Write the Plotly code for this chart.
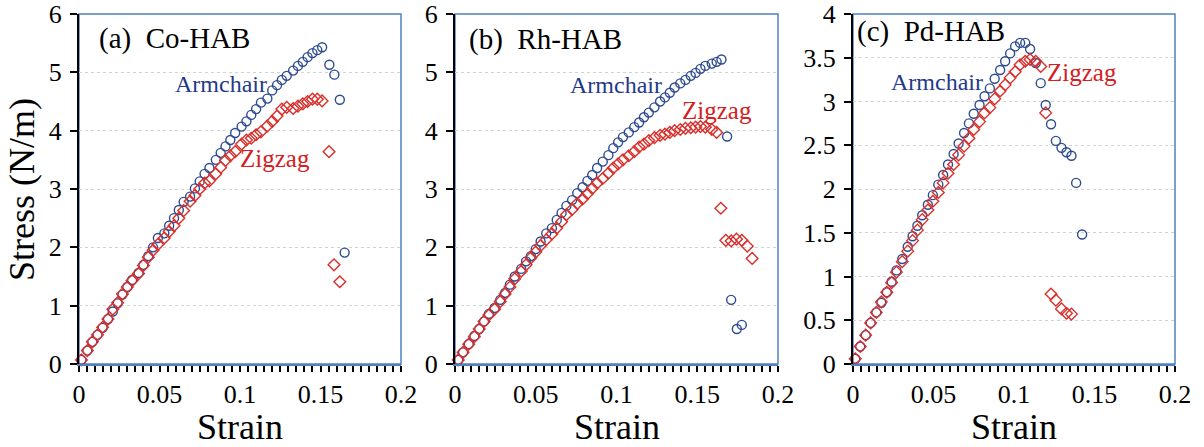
import plotly.graph_objs as go

# ---- data ----
# (a) Co-HAB
co_arm_strain = [0.0015, 0.0052, 0.0083, 0.0115, 0.0147, 0.018, 0.021, 0.024, 0.027, 0.030,
                 0.033, 0.037, 0.040, 0.043, 0.046, 0.049, 0.053, 0.056, 0.059, 0.062,
                 0.065, 0.069, 0.072, 0.075, 0.078, 0.081, 0.085, 0.088, 0.091, 0.094,
                 0.097, 0.101, 0.104, 0.107, 0.110, 0.113, 0.117, 0.120, 0.123, 0.126,
                 0.129, 0.133, 0.136, 0.139, 0.142, 0.145, 0.148, 0.151, 0.1555, 0.1586,
                 0.162, 0.165]
co_arm_stress = [0.07, 0.23, 0.38, 0.50, 0.62, 0.77, 0.90, 1.04, 1.19, 1.32,
                 1.44, 1.56, 1.70, 1.85, 2.00, 2.16, 2.24, 2.37, 2.50, 2.64,
                 2.78, 2.87, 3.01, 3.13, 3.26, 3.36, 3.50, 3.62, 3.73, 3.84,
                 3.96, 4.07, 4.16, 4.27, 4.37, 4.48, 4.55, 4.69, 4.78, 4.87,
                 4.94, 5.03, 5.11, 5.18, 5.26, 5.33, 5.38, 5.43, 5.13, 4.96,
                 4.53, 1.91]
co_zig_strain = [0.0015, 0.0052, 0.0083, 0.0115, 0.0147, 0.018, 0.021, 0.024, 0.027, 0.030,
                 0.033, 0.037, 0.040, 0.043, 0.046, 0.049, 0.053, 0.056, 0.059, 0.062,
                 0.065, 0.069, 0.072, 0.075, 0.078, 0.081, 0.085, 0.088, 0.091, 0.094,
                 0.097, 0.101, 0.104, 0.107, 0.110, 0.113, 0.117, 0.120, 0.123, 0.126,
                 0.129, 0.133, 0.136, 0.139, 0.142, 0.145, 0.148, 0.151, 0.1553, 0.1584,
                 0.162]
co_zig_stress = [0.07, 0.23, 0.38, 0.50, 0.63, 0.77, 0.94, 1.05, 1.20, 1.32,
                 1.43, 1.55, 1.69, 1.83, 1.95, 2.05, 2.16, 2.27, 2.37, 2.50,
                 2.63, 2.79, 2.89, 3.00, 3.10, 3.14, 3.26, 3.37, 3.49, 3.57,
                 3.64, 3.77, 3.84, 3.87, 3.93, 3.98, 4.08, 4.16, 4.25, 4.37,
                 4.40, 4.38, 4.42, 4.46, 4.50, 4.54, 4.54, 4.51, 3.64, 1.70,
                 1.41]

# (b) Rh-HAB
rh_arm_strain = [0.002, 0.005, 0.0085, 0.012, 0.015, 0.018, 0.021, 0.0245, 0.028, 0.031,
                 0.034, 0.037, 0.041, 0.044, 0.047, 0.050, 0.053, 0.0565, 0.060, 0.063,
                 0.066, 0.069, 0.0725, 0.0757, 0.079, 0.082, 0.085, 0.088, 0.0915, 0.095,
                 0.098, 0.101, 0.104, 0.1076, 0.111, 0.114, 0.117, 0.120, 0.1235, 0.127,
                 0.130, 0.133, 0.136, 0.1395, 0.1427, 0.146, 0.149, 0.152, 0.155, 0.159,
                 0.162, 0.165, 0.1685, 0.171, 0.1745, 0.1776]
rh_arm_stress = [0.07, 0.20, 0.34, 0.48, 0.60, 0.73, 0.86, 0.96, 1.10, 1.22,
                 1.36, 1.50, 1.63, 1.76, 1.85, 1.97, 2.10, 2.24, 2.33, 2.47,
                 2.59, 2.71, 2.81, 2.93, 3.03, 3.14, 3.24, 3.36, 3.47, 3.58,
                 3.70, 3.80, 3.89, 3.97, 4.06, 4.14, 4.23, 4.31, 4.40, 4.50,
                 4.57, 4.65, 4.74, 4.81, 4.87, 4.94, 4.99, 5.06, 5.11, 5.15,
                 5.18, 5.22, 3.90, 1.10, 0.60, 0.67]
rh_zig_strain = [0.002, 0.005, 0.0085, 0.012, 0.015, 0.018, 0.021, 0.0245, 0.028, 0.031,
                 0.034, 0.037, 0.041, 0.044, 0.047, 0.050, 0.053, 0.0565, 0.060, 0.063,
                 0.066, 0.069, 0.0725, 0.0757, 0.079, 0.082, 0.085, 0.088, 0.0915, 0.095,
                 0.098, 0.101, 0.104, 0.1076, 0.111, 0.114, 0.117, 0.120, 0.1235, 0.127,
                 0.130, 0.133, 0.136, 0.1395, 0.1427, 0.146, 0.149, 0.152, 0.155, 0.159,
                 0.162, 0.1646, 0.1677, 0.171, 0.1743, 0.1776, 0.181, 0.184]
rh_zig_stress = [0.07, 0.20, 0.34, 0.47, 0.60, 0.73, 0.84, 0.94, 1.07, 1.20,
                 1.32, 1.46, 1.59, 1.70, 1.82, 1.92, 2.03, 2.13, 2.23, 2.33,
                 2.44, 2.56, 2.65, 2.75, 2.83, 2.92, 3.01, 3.10, 3.18, 3.27,
                 3.36, 3.43, 3.50, 3.57, 3.64, 3.72, 3.77, 3.83, 3.88, 3.92,
                 3.94, 3.97, 4.00, 4.02, 4.04, 4.05, 4.06, 4.07, 4.06, 4.02,
                 3.97, 2.67, 2.12, 2.11, 2.14, 2.12, 2.02, 1.81]

# (c) Pd-HAB
pd_arm_strain = [0.0014, 0.0045, 0.0079, 0.011, 0.0145, 0.0176, 0.021, 0.024, 0.027, 0.0306,
                 0.034, 0.037, 0.040, 0.043, 0.0465, 0.0496, 0.053, 0.056, 0.059, 0.0625,
                 0.0656, 0.069, 0.072, 0.075, 0.0786, 0.0817, 0.085, 0.088, 0.0914, 0.0945,
                 0.0976, 0.1007, 0.1038, 0.107, 0.110, 0.1135, 0.1166, 0.1197, 0.123, 0.126,
                 0.1295, 0.1326, 0.1357, 0.1386, 0.1423]
pd_arm_stress = [0.06, 0.20, 0.33, 0.47, 0.59, 0.70, 0.82, 0.94, 1.07, 1.20,
                 1.34, 1.46, 1.58, 1.70, 1.82, 1.93, 2.05, 2.16, 2.28, 2.40,
                 2.52, 2.64, 2.75, 2.86, 2.96, 3.06, 3.15, 3.26, 3.36, 3.46,
                 3.55, 3.63, 3.67, 3.67, 3.60, 3.44, 3.21, 2.96, 2.74, 2.55,
                 2.47, 2.42, 2.38, 2.07, 1.48]
pd_zig_strain = [0.0014, 0.0045, 0.0079, 0.011, 0.0145, 0.0176, 0.021, 0.024, 0.027, 0.0306,
                 0.034, 0.037, 0.040, 0.043, 0.0465, 0.0496, 0.053, 0.056, 0.059, 0.0625,
                 0.0656, 0.069, 0.072, 0.075, 0.0786, 0.0817, 0.085, 0.088, 0.0914, 0.0945,
                 0.0976, 0.1007, 0.1038, 0.107, 0.110, 0.1135, 0.1166, 0.1197, 0.123, 0.126,
                 0.1295, 0.1326, 0.1357]
pd_zig_stress = [0.06, 0.20, 0.33, 0.47, 0.59, 0.71, 0.82, 0.93, 1.05, 1.17,
                 1.29, 1.41, 1.53, 1.65, 1.76, 1.86, 1.96, 2.07, 2.18, 2.28,
                 2.39, 2.49, 2.58, 2.68, 2.77, 2.87, 2.93, 3.03, 3.12, 3.19,
                 3.27, 3.34, 3.42, 3.46, 3.48, 3.46, 3.40, 2.87, 0.80, 0.73,
                 0.63, 0.58, 0.57]

panel_titles = ['(a)\u00a0 Co-HAB', '(b)\u00a0 Rh-HAB', '(c)\u00a0 Pd-HAB']
y_max = [6, 6, 4]
y_step = [1, 1, 0.5]

# ---- styling ----
FONT = 'Liberation Serif'
BLUE = '#2e4b8f'
RED = '#d9302c'
FRAME = '#4f81bd'
W, H = 1204, 447

# pixel placement of each panel (left, right)
panel_px = [(79, 401), (455, 778), (853, 1175)]
# label positions in data units: armchair (x, y), zigzag (x, y)
arm_pos = [(0.088, 4.80), (0.0996, 4.78), (0.052, 3.22)]
zig_pos = [(0.122, 3.53), (0.162, 4.34), (0.142, 3.33)]
title_pos = [(0.056, 0.931), (0.037, 0.926), (0.006, 0.949)]

series = [
    (co_arm_strain, co_arm_stress, co_zig_strain, co_zig_stress),
    (rh_arm_strain, rh_arm_stress, rh_zig_strain, rh_zig_stress),
    (pd_arm_strain, pd_arm_stress, pd_zig_strain, pd_zig_stress),
]

fig = go.Figure()
layout = dict(
    width=W, height=H,
    margin=dict(l=0, r=0, t=14, b=83, autoexpand=False),
    paper_bgcolor='white', plot_bgcolor='white',
    showlegend=False,
    font=dict(family=FONT, color='black', size=26),
)
annotations = []
shapes = []

for i, (ax, ay, zx, zy) in enumerate(series):
    n = '' if i == 0 else str(i + 1)
    xa, ya = 'x' + n, 'y' + n
    fig.add_trace(go.Scatter(
        x=ax, y=ay, mode='markers', xaxis=xa, yaxis=ya, cliponaxis=False,
        marker=dict(symbol='circle-open', size=9, color=BLUE, line=dict(width=1.4, color=BLUE)),
    ))
    fig.add_trace(go.Scatter(
        x=zx, y=zy, mode='markers', xaxis=xa, yaxis=ya, cliponaxis=False,
        marker=dict(symbol='diamond-open', size=9, color=RED, line=dict(width=1.4, color=RED)),
    ))

    left, right = panel_px[i]
    layout['xaxis' + n] = dict(
        domain=[left / W, right / W], anchor=ya, automargin=False,
        range=[0, 0.2], dtick=0.05, tick0=0,
        showline=True, linecolor=FRAME, linewidth=1.5,
        ticks='outside', ticklen=6, tickwidth=1.5, tickcolor='black',
        minor=dict(dtick=0.005, ticks='outside', ticklen=6, tickwidth=1.5, tickcolor='black'),
        showgrid=False, zeroline=False,
        tickfont=dict(family=FONT, size=26, color='black'),
    )
    layout['yaxis' + n] = dict(
        domain=[0, 1], anchor=xa, automargin=False,
        range=[0, y_max[i]], dtick=y_step[i], tick0=0,
        showline=True, linecolor='black', linewidth=2,
        ticks='outside', ticklen=7, tickwidth=1.5, tickcolor='black',
        showgrid=True, gridcolor='#d3d3d3', griddash='dot', gridwidth=1,
        zeroline=False, ticklabelstandoff=3,
        tickfont=dict(family=FONT, size=26, color='black'),
    )

    # blue frame (top / right)
    shapes.append(dict(type='rect', xref=xa + ' domain', yref=ya + ' domain',
                       x0=0, x1=1, y0=0, y1=1, layer='below',
                       line=dict(color=FRAME, width=1.5)))

    annotations.append(dict(text=panel_titles[i], xref=xa + ' domain', yref=ya + ' domain',
                            x=title_pos[i][0], y=title_pos[i][1], xanchor='left', yanchor='middle',
                            showarrow=False, font=dict(family=FONT, size=29, color='black')))
    annotations.append(dict(text='Armchair', xref=xa, yref=ya,
                            x=arm_pos[i][0], y=arm_pos[i][1], showarrow=False,
                            font=dict(family=FONT, size=24, color='#1f3a8a')))
    annotations.append(dict(text='Zigzag', xref=xa, yref=ya,
                            x=zig_pos[i][0], y=zig_pos[i][1], showarrow=False,
                            font=dict(family=FONT, size=25, color='#d42020')))
    annotations.append(dict(text='Strain', xref=xa + ' domain', yref=ya + ' domain',
                            x=0.5, y=-0.18, xanchor='center', yanchor='middle', showarrow=False,
                            font=dict(family=FONT, size=36, color='black')))

annotations.append(dict(text='Stress (N/m)', xref='paper', yref='paper',
                        x=22 / W, y=0.497, xanchor='center', yanchor='middle',
                        textangle=-90, showarrow=False,
                        font=dict(family=FONT, size=36, color='black')))

layout['annotations'] = annotations
layout['shapes'] = shapes
fig.update_layout(**layout)

# the page body has a default 8px margin, drop it so the figure sits at (0, 0)
fig.write_html('out.html', config={'displayModeBar': False},
               post_script="document.body.style.margin='0';")
